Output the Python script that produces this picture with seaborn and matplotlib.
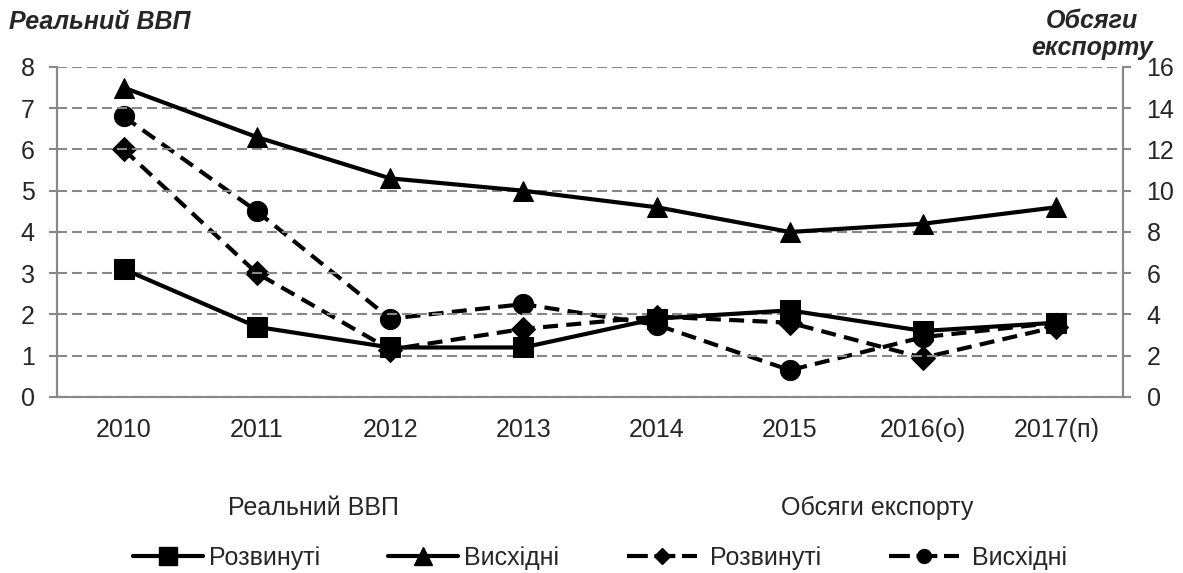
import pandas as pd
import seaborn as sns
import matplotlib.pyplot as plt
from matplotlib.lines import Line2D

# --- Дані ---
years = ['2010', '2011', '2012', '2013', '2014', '2015', '2016(о)', '2017(п)']
gdp_developed = [3.1, 1.7, 1.2, 1.2, 1.9, 2.1, 1.6, 1.8]
gdp_emerging = [7.5, 6.3, 5.3, 5.0, 4.6, 4.0, 4.2, 4.6]
exp_developed = [12.0, 6.0, 2.3, 3.3, 3.9, 3.6, 1.9, 3.4]
exp_emerging = [13.6, 9.0, 3.8, 4.5, 3.5, 1.3, 2.9, 3.6]

pos = list(range(len(years)))
df = pd.DataFrame({'pos': pos, 'gdp_dev': gdp_developed, 'gdp_em': gdp_emerging,
                   'exp_dev': exp_developed, 'exp_em': exp_emerging})

sns.set_style('white')
plt.rcParams['font.family'] = ['Liberation Sans', 'DejaVu Sans']

fig = plt.figure(figsize=(11.83, 5.73), dpi=100)
ax = fig.add_axes([0.0482, 0.3072, 0.9010, 0.5759])
ax2 = ax.twinx()

grid_col = '#888888'
lw = 3.0
dash = (0, (3.6, 2.0))
fs = 18

# --- Реальний ВВП (ліва вісь) ---
sns.lineplot(data=df, x='pos', y='gdp_dev', ax=ax, color='black', linewidth=lw,
             marker='s', markersize=14.5, markeredgecolor='black', zorder=5)
sns.lineplot(data=df, x='pos', y='gdp_em', ax=ax, color='black', linewidth=lw,
             marker='^', markersize=15, markeredgecolor='black', zorder=5)

# --- Обсяги експорту (права вісь) ---
sns.lineplot(data=df, x='pos', y='exp_dev', ax=ax2, color='black', linewidth=lw,
             marker='D', markersize=12.5, markeredgecolor='black', linestyle=dash)
sns.lineplot(data=df, x='pos', y='exp_em', ax=ax2, color='black', linewidth=lw,
             marker='o', markersize=14.5, markeredgecolor='black', linestyle=dash)

ax.set_zorder(ax2.get_zorder() + 1)
ax.patch.set_visible(False)

ax.set_xlim(-0.5, len(years) - 0.5)
ax.set_ylim(0, 8)
ax2.set_ylim(0, 16)
ax.set_yticks(range(0, 9))
ax2.set_yticks(range(0, 17, 2))
ax.set_xticks(pos)
ax.set_xticklabels(years)
ax.set_xticks([p - 0.5 for p in pos] + [len(years) - 0.5], minor=True)
ax.tick_params(axis='x', which='major', length=0, pad=15, labelsize=fs)
ax.tick_params(axis='x', which='minor', length=6, width=1.5, color=grid_col, direction='out')
ax.tick_params(axis='y', length=6, width=1.5, color=grid_col, labelsize=fs, left=True, pad=10)
ax2.tick_params(axis='y', length=6, width=1.5, color=grid_col, labelsize=fs, right=True, pad=11)
ax.set_xlabel('')
ax.set_ylabel('')
ax2.set_ylabel('')

ax.yaxis.grid(True, color=grid_col, linestyle=(0, (4.8, 2.4)), linewidth=1.5)
ax.xaxis.grid(False)
for a in (ax, ax2):
    a.spines['top'].set_visible(False)
    for side in ('left', 'right', 'bottom'):
        a.spines[side].set_color(grid_col)
        a.spines[side].set_linewidth(1.5)

# --- Заголовки осей ---
fig.text(0.008, 1 - 29 / 573, 'Реальний ВВП', fontsize=fs, fontweight='bold',
         fontstyle='italic', ha='left', va='baseline')
fig.text(1138 / 1183, 1 - 28 / 573, 'Обсяги', fontsize=fs, fontweight='bold',
         fontstyle='italic', ha='right', va='baseline')
fig.text(1153 / 1183, 1 - 55 / 573, 'експорту', fontsize=fs, fontweight='bold',
         fontstyle='italic', ha='right', va='baseline')

# --- Легенда ---
fig.text(313 / 1183, 1 - 515 / 573, 'Реальний ВВП', fontsize=fs, ha='center', va='baseline')
fig.text(877 / 1183, 1 - 515 / 573, 'Обсяги експорту', fontsize=fs, ha='center', va='baseline')

leg_dash = (0, (5.0, 1.6))
handles = [
    Line2D([], [], color='black', lw=lw, marker='s', markersize=13),
    Line2D([], [], color='black', lw=lw, marker='^', markersize=13),
    Line2D([], [], color='black', lw=lw, marker='D', markersize=8, linestyle=leg_dash),
    Line2D([], [], color='black', lw=lw, marker='o', markersize=10, linestyle=leg_dash),
]
labels = ['Розвинуті', 'Висхідні', ' Розвинуті', ' Висхідні']
fig.legend(handles, labels, loc='center', bbox_to_anchor=(600 / 1183, 1 - 558 / 573), ncol=4,
           frameon=False, fontsize=fs, handlelength=2.8, handletextpad=0.25,
           columnspacing=2.7, borderpad=0, borderaxespad=0)

fig.savefig('out.png', dpi=100)
